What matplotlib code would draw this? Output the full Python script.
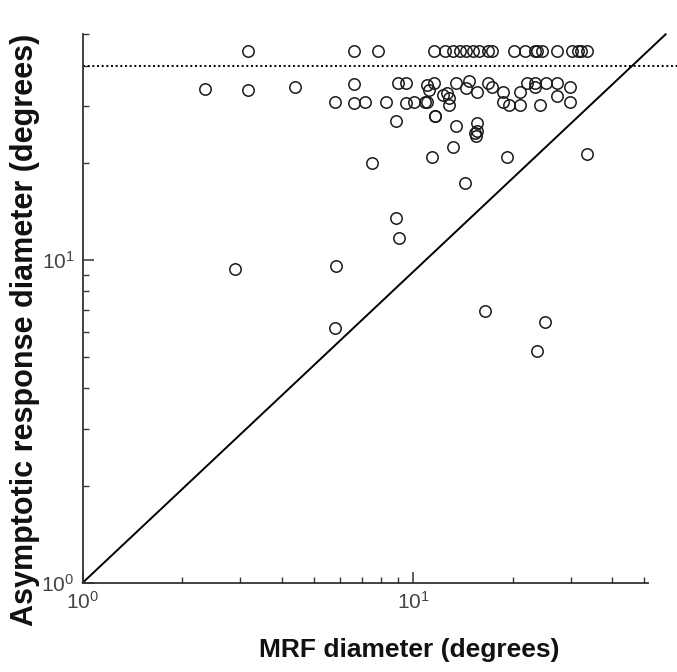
import matplotlib
matplotlib.use("Agg")
import matplotlib.pyplot as plt
from matplotlib.ticker import LogLocator, NullFormatter, FixedLocator

plt.rcParams["mathtext.fontset"] = "custom"
plt.rcParams["mathtext.rm"] = "Liberation Sans"
plt.rcParams["mathtext.it"] = "Liberation Sans:italic"
plt.rcParams["mathtext.bf"] = "Liberation Sans:bold"

# MRF diameter (deg) and asymptotic response diameter (deg) per cell
mrf_diameter = [
    3.17, 6.62, 7.81, 11.55, 12.45, 13.19, 13.85, 14.43, 15.16, 15.80, 16.83,
    17.30, 20.17, 21.71, 23.34, 23.7, 24.51, 27.21, 30.2, 31.6, 32.1, 33.5,
    2.34, 3.16, 4.39, 6.62, 8.99, 9.50, 11.04, 11.55, 11.13, 13.42, 14.69,
    14.43, 15.58, 16.83, 17.30, 18.68, 22.05, 23.4, 25.2, 27.2, 23.3, 21.0,
    29.8, 27.2, 29.8, 24.1, 21.0, 19.5, 18.7, 12.82, 12.82, 12.65, 12.27,
    11.04, 10.08, 10.85, 9.50, 8.29, 7.14, 6.62, 5.78,
    8.89, 11.65, 11.65, 13.42, 15.58, 15.37, 15.45, 15.58, 13.22, 11.38,
    19.25, 33.6, 7.51, 14.38, 8.89, 9.08, 2.89, 5.83, 5.80, 16.5, 25.0, 23.6,
]
asym_diameter = [
    44.5, 44.5, 44.5, 44.5, 44.5, 44.5, 44.5, 44.5, 44.5, 44.5, 44.5,
    44.5, 44.5, 44.5, 44.5, 44.5, 44.5, 44.5, 44.5, 44.5, 44.5, 44.5,
    33.9, 33.5, 34.3, 35.1, 35.3, 35.3, 34.85, 35.3, 33.6, 35.3, 35.7,
    34.0, 33.2, 35.3, 34.4, 33.2, 35.3, 35.3, 35.3, 35.3, 34.4, 33.2,
    34.4, 32.1, 30.9, 30.2, 30.2, 30.2, 30.9, 30.2, 31.7, 32.9, 32.4,
    30.9, 30.9, 30.9, 30.6, 30.9, 30.9, 30.6, 30.9,
    27.0, 28.0, 28.0, 25.9, 26.5, 24.7, 24.2, 25.0, 22.3, 20.8,
    20.8, 21.3, 20.0, 17.3, 13.47, 11.68, 9.36, 9.58, 6.14, 6.96, 6.41, 5.22,
]

# reference lines: diagonal and saturation level
diag_x = [1.0, 58.0]
diag_y = [1.0, 50.0]
ceiling_level = 40.0
ceiling_x = [1.0, 66.0]

x_limits = (1.0, 51.2)
y_limits = (1.0, 50.0)
major_ticks = [1, 10]
major_labels = [r"$\mathregular{10^0}$", r"$\mathregular{10^1}$"]

fig = plt.figure(figsize=(6.77, 6.72), dpi=100)
ax = fig.add_axes([0.1222, 0.1329, 0.8346, 0.8161])

ax.set_xscale("log")
ax.set_yscale("log")
ax.set_xlim(*x_limits)
ax.set_ylim(*y_limits)

ax.plot(diag_x, diag_y, color="black", lw=1.4, clip_on=False, zorder=2)
ax.plot(ceiling_x, [ceiling_level, ceiling_level], color="black", lw=1.4,
        linestyle=(0, (1, 1.4)), clip_on=False, zorder=2)

ax.plot(mrf_diameter, asym_diameter, linestyle="none", marker="o",
        markersize=8.2, markerfacecolor="none", markeredgecolor="#1a1a1a",
        markeredgewidth=1.1, clip_on=False, zorder=3)

for side in ("top", "right"):
    ax.spines[side].set_visible(False)
for side in ("left", "bottom"):
    ax.spines[side].set_linewidth(1.3)
    ax.spines[side].set_color("#333333")

tick_font = {"family": "Liberation Sans", "size": 15}
for axis in (ax.xaxis, ax.yaxis):
    axis.set_major_locator(FixedLocator(major_ticks))
    axis.set_minor_locator(LogLocator(base=10, subs=range(2, 10), numticks=20))
    axis.set_minor_formatter(NullFormatter())
ax.set_xticklabels(major_labels, fontdict=tick_font, color="#444444")
ax.set_yticklabels(major_labels, fontdict=tick_font, color="#444444")
ax.tick_params(which="major", direction="in", length=8, width=1.1,
               color="#333333", pad=6)
ax.tick_params(which="minor", direction="in", length=4.5, width=1.0,
               color="#333333")

ax.set_xlabel("MRF diameter (degrees)", family="Liberation Sans",
              fontweight="bold", fontsize=19, color="#111111",
              va="center", ha="center")
ax.xaxis.set_label_coords(0.578, -0.1227)
ax.set_ylabel("Asymptotic response diameter (degrees)", family="Liberation Sans",
              fontweight="bold", fontsize=22, color="#111111",
              va="center", ha="center")
ax.yaxis.set_label_coords(-0.1025, 0.461)

fig.savefig("out.png", dpi=100)
